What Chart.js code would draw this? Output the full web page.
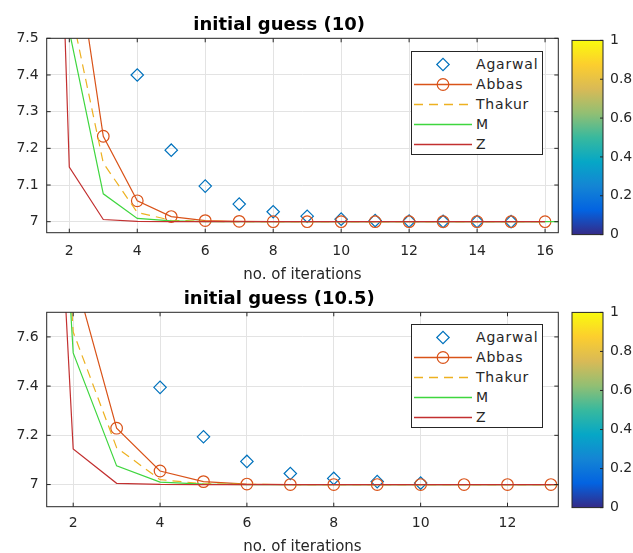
<!DOCTYPE html>
<html>
<head>
<meta charset="utf-8">
<script src="https://cdn.jsdelivr.net/npm/chart.js@4.4.0/dist/chart.umd.min.js"></script>
<style>
  body { margin: 0; background: #fff; width: 633px; height: 553px; position: relative; overflow: hidden; font-family: "DejaVu Sans", sans-serif; }
  canvas { position: absolute; display: block; }
  .legend { position: absolute; box-sizing: border-box; width: 132px; height: 104px; border: 1px solid #262626; background: #fff;
            padding-top: 2px; font-size: 14px; letter-spacing: 0.8px; color: #262626; z-index: 5; }
  .legend .row { display: flex; align-items: center; height: 20px; }
  .legend svg { width: 62px; height: 20px; flex: none; }
  .legend span { margin-left: 2px; }
</style>
</head>
<body>
<canvas id="main1" width="605" height="290" style="left:0;top:0"></canvas>
<canvas id="main2" width="605" height="290" style="left:0;top:274px"></canvas>
<canvas id="cbar1" width="73" height="225" style="left:560px;top:25px"></canvas>
<canvas id="cbar2" width="73" height="226" style="left:560px;top:297px"></canvas>
<div class="legend" id="leg1" style="left:411px;top:51px"></div>
<div class="legend" id="leg2" style="left:411px;top:324px"></div>

<script>
// ---- initial guess 10 ----
const iter1 = [1, 2, 3, 4, 5, 6, 7, 8, 9, 10, 11, 12, 13, 14, 15, 16, 17];
const agarwalX1 = [4, 5, 6, 7, 8, 9, 10, 11, 12, 13, 14, 15];
const agarwalY1 = [7.400, 7.195, 7.097, 7.048, 7.027, 7.015, 7.007, 7.003, 7.0015, 7.0008, 7.0004, 7.0002];
const abbasY1  = [10, 7.854, 7.233, 7.057, 7.014, 7.003, 7.001, 7, 7, 7, 7, 7, 7, 7, 7, 7];
const thakurY1 = [10, 7.60, 7.16, 7.025, 7.004, 7.001, 7, 7, 7, 7, 7, 7, 7, 7, 7, 7];
const mY1      = [10, 7.52, 7.076, 7.009, 7.002, 7, 7, 7, 7, 7, 7, 7, 7, 7, 7, 7, 7];
const zY1      = [10, 7.149, 7.006, 7.001, 7, 7, 7, 7, 7, 7, 7, 7, 7, 7, 7, 7];
const xRange1 = [1.335, 16.39];
const yRange1 = [6.97, 7.5];
const yStep1 = 0.1;

// ---- initial guess 10.5 ----
const iter2 = [1, 2, 3, 4, 5, 6, 7, 8, 9, 10, 11, 12, 13, 14];
const agarwalX2 = [4, 5, 6, 7, 8, 9, 10];
const agarwalY2 = [7.395, 7.194, 7.094, 7.045, 7.025, 7.012, 7.006];
const abbasY2  = [10.5, 7.87, 7.229, 7.055, 7.012, 7.002, 7, 7, 7, 7, 7, 7, 7];
const thakurY2 = [10.5, 7.62, 7.15, 7.02, 7.003, 7.0005, 7, 7, 7, 7, 7, 7, 7, 7];
const mY2      = [10.5, 7.535, 7.076, 7.01, 7.002, 7, 7, 7, 7, 7, 7, 7, 7, 7];
const zY2      = [10.5, 7.145, 7.005, 7.0005, 7, 7, 7, 7, 7, 7, 7, 7, 7, 7];
const xRange2 = [1.39, 13.17];
const yRange2 = [6.91, 7.70];
const yStep2 = 0.2;

const xStep = 2;
const seriesNames = ['Agarwal', 'Abbas', 'Thakur', 'M', 'Z'];
const cbRange = [0, 1];
const cbStep = 0.2;

const colors = ['#0072BD', '#D95319', '#EDB120', '#3fd63f', '#c23030'];
const parula = ['#352A87', '#0363E1', '#1485D4', '#06A7C6', '#38B99E', '#92BF73', '#D9BA56', '#FCCE2E', '#F9FB0E'];

Chart.defaults.font.family = '"DejaVu Sans", sans-serif';
Chart.defaults.color = '#262626';
Chart.defaults.animation = false;

function pts(xs, ys) {
  return ys.map((y, i) => ({ x: xs[i], y: y }));
}

// plain number labels like matlab: 7, 7.1, 0.2, 1
const plainTick = v => String(Math.round(v * 1000) / 1000);

// matlab-like box with inward ticks
const boxPlugin = {
  id: 'matlabBox',
  afterDatasetsDraw(chart, args, opts) {
    const { ctx, chartArea: a, scales } = chart;
    const len = opts.tick || 0;
    ctx.save();
    ctx.strokeStyle = '#262626';
    ctx.lineWidth = 1;
    ctx.strokeRect(a.left, a.top, a.right - a.left, a.bottom - a.top);
    ctx.beginPath();
    if (opts.xTicks) {
      scales.x.ticks.forEach(t => {
        const px = scales.x.getPixelForValue(t.value);
        ctx.moveTo(px, a.bottom); ctx.lineTo(px, a.bottom - len);
        ctx.moveTo(px, a.top); ctx.lineTo(px, a.top + len);
      });
    }
    scales.y.ticks.forEach(t => {
      const py = scales.y.getPixelForValue(t.value);
      if (opts.leftTicks) { ctx.moveTo(a.left, py); ctx.lineTo(a.left + len, py); }
      ctx.moveTo(a.right, py); ctx.lineTo(a.right - len, py);
    });
    ctx.stroke();
    ctx.restore();
  }
};

function makeMain(id, title, ag, lines, xr, yr, yStep, tickPad, titlePad) {
  const datasets = [
    { label: seriesNames[0], data: ag, showLine: false, borderColor: colors[0], backgroundColor: 'rgba(0,0,0,0)',
      pointStyle: 'rectRot', pointRadius: 6.2, pointBorderWidth: 1.2, order: 5 },
    { label: seriesNames[1], data: lines[0], borderColor: colors[1], backgroundColor: 'rgba(0,0,0,0)', borderWidth: 1.2,
      pointStyle: 'circle', pointRadius: 5.8, pointBorderWidth: 1.2, order: 4 },
    { label: seriesNames[2], data: lines[1], borderColor: colors[2], borderWidth: 1.2, borderDash: [9, 6], pointRadius: 0, order: 3 },
    { label: seriesNames[3], data: lines[2], borderColor: colors[3], borderWidth: 1.2, pointRadius: 0, order: 2 },
    { label: seriesNames[4], data: lines[3], borderColor: colors[4], borderWidth: 1.2, pointRadius: 0, order: 1 }
  ];
  return new Chart(document.getElementById(id), {
    type: 'line',
    data: { datasets: datasets },
    options: {
      responsive: false,
      // right padding = left axis width so the title centres over the plot
      layout: { padding: { left: 0, right: 46.7, top: 0, bottom: 0 } },
      elements: { line: { tension: 0 } },
      plugins: {
        legend: { display: false },
        tooltip: { enabled: false },
        title: { display: true, text: title, color: '#000', font: { size: 18, weight: 'bold' }, padding: { top: 14.5, bottom: 2.2 } },
        matlabBox: { tick: 4, xTicks: true, leftTicks: true }
      },
      scales: {
        x: {
          type: 'linear', min: xr[0], max: xr[1],
          ticks: { stepSize: xStep, includeBounds: false, padding: tickPad, font: { size: 14 }, callback: plainTick },
          grid: { color: '#e3e3e3', drawTicks: false },
          border: { display: false },
          title: { display: true, text: 'no. of iterations', font: { size: 15 }, padding: { top: 0, bottom: titlePad } },
          afterFit: s => { s.height = 290 - 232.7; }
        },
        y: {
          min: yr[0], max: yr[1],
          ticks: { stepSize: yStep, includeBounds: false, padding: 8, font: { size: 14 }, callback: plainTick },
          grid: { color: '#e3e3e3', drawTicks: false },
          border: { display: false },
          afterFit: s => { s.width = 46.7; }
        }
      }
    },
    plugins: [boxPlugin]
  });
}

function makeColorbar(id) {
  return new Chart(document.getElementById(id), {
    type: 'bar',
    data: {
      labels: [''],
      datasets: [{
        data: [cbRange[1]],
        backgroundColor: ctx => {
          const area = ctx.chart.chartArea;
          if (!area) return parula[0];
          const g = ctx.chart.ctx.createLinearGradient(0, area.bottom, 0, area.top);
          parula.forEach((c, i) => g.addColorStop(i / (parula.length - 1), c));
          return g;
        },
        borderWidth: 0,
        barPercentage: 1,
        categoryPercentage: 1
      }]
    },
    options: {
      responsive: false,
      layout: { padding: { left: 12, top: 0, bottom: 0, right: 0 } },
      plugins: { legend: { display: false }, tooltip: { enabled: false }, matlabBox: { tick: 3 } },
      scales: {
        x: { display: false },
        y: {
          position: 'right', min: cbRange[0], max: cbRange[1],
          ticks: { stepSize: cbStep, padding: 7, font: { size: 14 }, callback: plainTick },
          grid: { display: false, drawTicks: false },
          border: { display: false },
          afterFit: s => { s.width = 30; }
        }
      }
    },
    plugins: [boxPlugin]
  });
}

function makeLegend(elId, chart) {
  const el = document.getElementById(elId);
  const ns = 'http://www.w3.org/2000/svg';
  seriesNames.forEach((name, i) => {
    const ds = chart.data.datasets[i];
    const row = document.createElement('div');
    row.className = 'row';
    const svg = document.createElementNS(ns, 'svg');
    svg.setAttribute('viewBox', '0 0 62 20');
    if (ds.showLine !== false) {
      const ln = document.createElementNS(ns, 'line');
      ln.setAttribute('x1', 2); ln.setAttribute('x2', 60);
      ln.setAttribute('y1', 10.5); ln.setAttribute('y2', 10.5);
      ln.setAttribute('stroke', ds.borderColor);
      ln.setAttribute('stroke-width', 1.3);
      if (ds.borderDash) ln.setAttribute('stroke-dasharray', ds.borderDash.join(' '));
      svg.appendChild(ln);
    }
    if (ds.pointRadius > 0) {
      let m;
      const r = ds.pointRadius;
      if (ds.pointStyle === 'rectRot') {
        m = document.createElementNS(ns, 'polygon');
        m.setAttribute('points', `${31 - r},10.5 31,${10.5 - r} ${31 + r},10.5 31,${10.5 + r}`);
      } else {
        m = document.createElementNS(ns, 'circle');
        m.setAttribute('cx', 31); m.setAttribute('cy', 10.5); m.setAttribute('r', r);
      }
      m.setAttribute('fill', 'none');
      m.setAttribute('stroke', ds.borderColor);
      m.setAttribute('stroke-width', 1.2);
      svg.appendChild(m);
    }
    row.appendChild(svg);
    const sp = document.createElement('span');
    sp.textContent = name;
    row.appendChild(sp);
    el.appendChild(row);
  });
}

const chart1 = makeMain('main1', 'initial guess (10)', pts(agarwalX1, agarwalY1),
  [pts(iter1, abbasY1), pts(iter1, thakurY1), pts(iter1, mY1), pts(iter1, zY1)],
  xRange1, yRange1, yStep1, 10, 6);
const chart2 = makeMain('main2', 'initial guess (10.5)', pts(agarwalX2, agarwalY2),
  [pts(iter2, abbasY2), pts(iter2, thakurY2), pts(iter2, mY2), pts(iter2, zY2)],
  xRange2, yRange2, yStep2, 8.4, 8);
makeColorbar('cbar1');
makeColorbar('cbar2');
makeLegend('leg1', chart1);
makeLegend('leg2', chart2);
</script>
</body>
</html>
